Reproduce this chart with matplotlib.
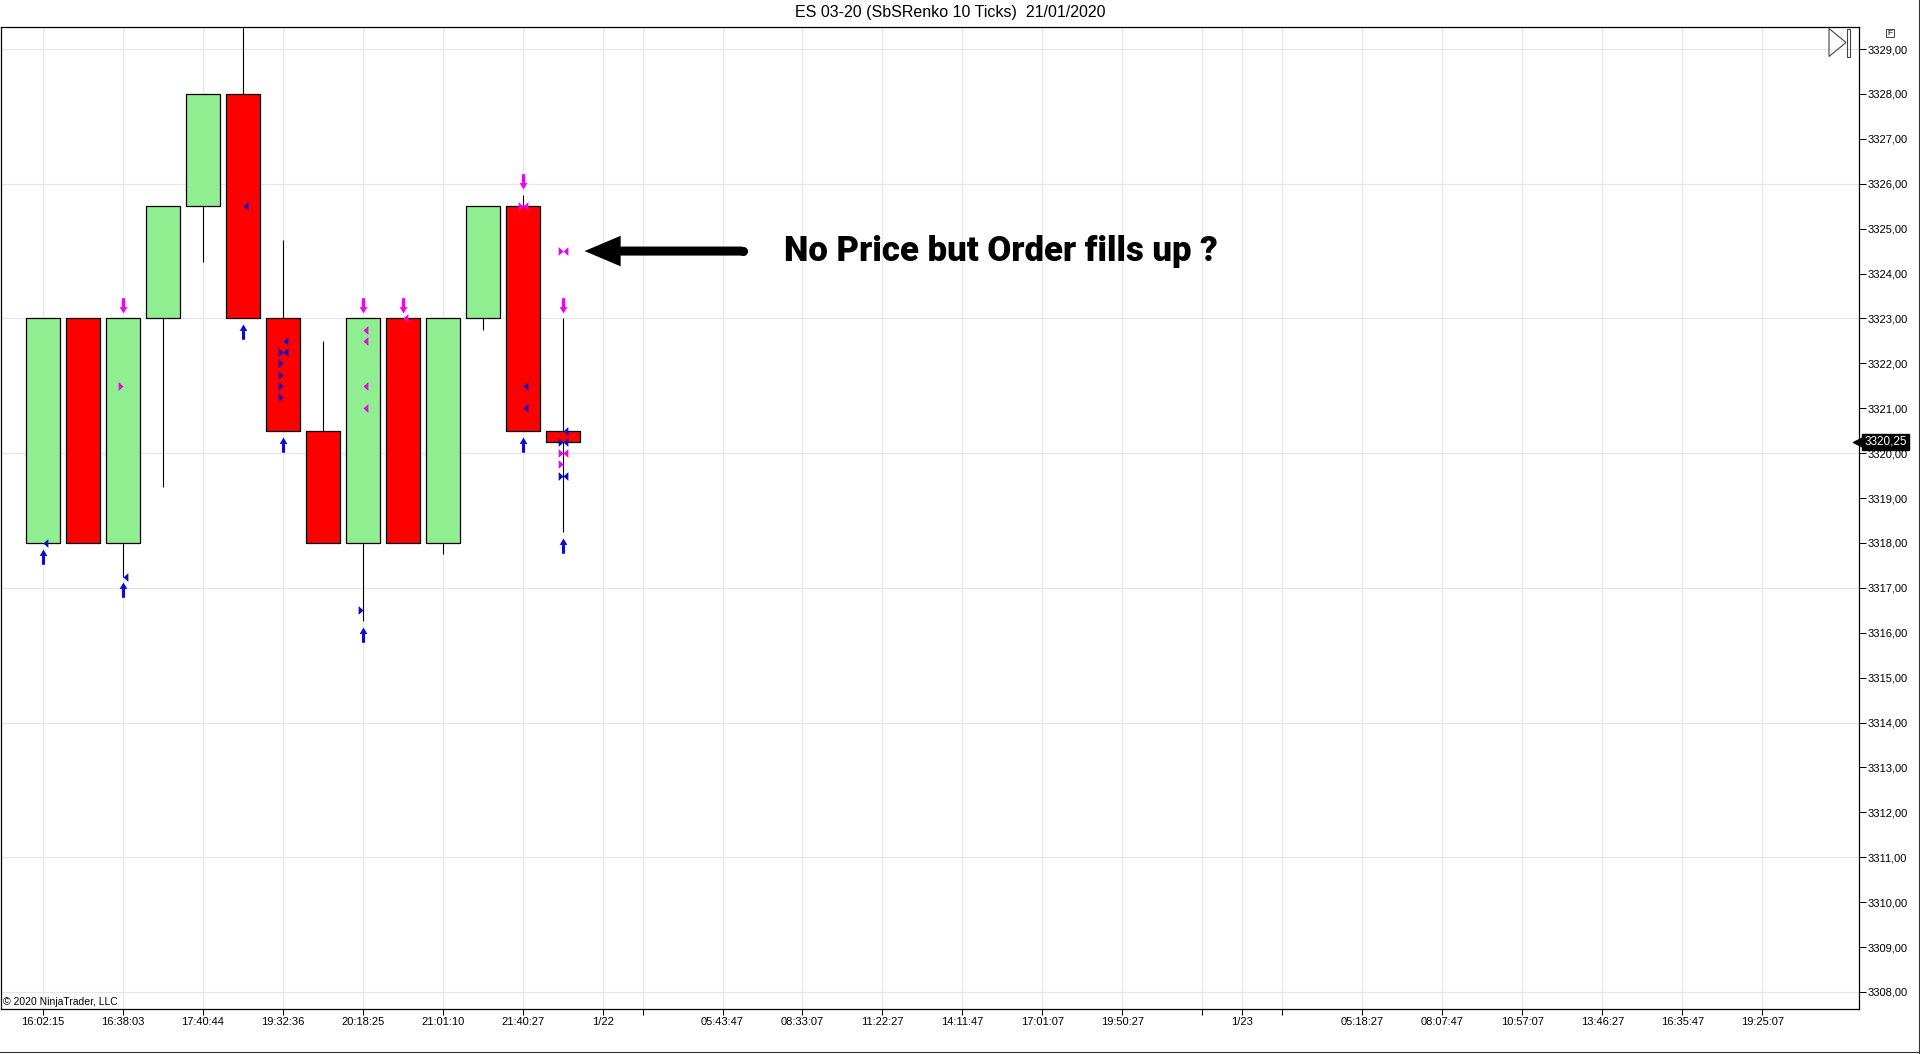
import matplotlib
matplotlib.use("Agg")
import matplotlib.pyplot as plt
import matplotlib.transforms as mtransforms
from matplotlib.lines import Line2D
from matplotlib.patches import Polygon, Rectangle
import numpy as np

plt.rcParams['font.family'] = ['Liberation Sans', 'DejaVu Sans']

# Renko bars (ES 03-20, 10 ticks)
opens  = [3318, 3323, 3318, 3323, 3325.5, 3328, 3323, 3320.5, 3318, 3323, 3318, 3323, 3325.5, 3320.5]
closes = [3323, 3318, 3323, 3325.5, 3328, 3323, 3320.5, 3318, 3323, 3318, 3323, 3325.5, 3320.5, 3320.25]
highs  = [3323, 3323, 3323, 3325.5, 3328, 3329.5, 3324.75, 3322.5, 3323, 3323, 3323, 3325.5, 3325.75, 3323]
lows   = [3318, 3318, 3317.25, 3319.25, 3324.25, 3323, 3320.5, 3318, 3316.25, 3318, 3317.75, 3322.75, 3320.5, 3318.25]

# x axis labels (bar slots)
tick_pos = [0, 2, 4, 6, 8, 10, 12, 14, 15, 17, 19, 21, 23, 25, 27, 29, 30, 31, 33, 35, 37, 39, 41, 43]
tick_labels = ['16:02:15', '16:38:03', '17:40:44', '19:32:36', '20:18:25', '21:01:10', '21:40:27', '1/22', '',
               '05:43:47', '08:33:07', '11:22:27', '14:11:47', '17:01:07', '19:50:27', '', '1/23', '',
               '05:18:27', '08:07:47', '10:57:07', '13:46:27', '16:35:47', '19:25:07']

# trade markers
long_bars = [0, 2, 5, 6, 8, 12, 13]      # blue up arrows under bar
short_bars = [2, 8, 9, 12, 13]           # magenta down arrows over bar

# executions: bar, price, side ('<' right of bar centre, '>' left of it), colour
exec_bar   = [0, 2, 5, 6, 6, 8, 8, 8, 8, 9, 12, 12, 12, 13, 13, 13, 13, 13,
              2, 6, 6, 6, 6, 6, 8, 12, 13, 13, 13, 13, 13]
exec_price = [3318, 3317.25, 3325.5, 3322.5, 3322.25, 3322.75, 3322.5, 3321.5, 3321.0, 3323.0, 3325.5, 3321.5, 3321.0,
              3320.5, 3320.25, 3320.0, 3319.5, 3324.5,
              3321.5, 3322.25, 3322.0, 3321.75, 3321.5, 3321.25, 3316.5, 3325.5, 3320.25, 3320.0, 3319.75, 3319.5, 3324.5]
exec_side  = ['<'] * 18 + ['>'] * 13
exec_col   = ['b', 'b', 'b', 'b', 'b', 'm', 'm', 'm', 'm', 'm', 'm', 'b', 'b', 'b', 'b', 'm', 'b', 'm',
              'm', 'b', 'b', 'b', 'b', 'b', 'b', 'm', 'b', 'm', 'm', 'b', 'm']

GREEN = '#90ee90'
RED = '#ff0000'
BLUE = '#0a0ad2'
MAG = '#f000f0'
GRID = '#e6e6e6'

W, H = 1920, 1054
fig = plt.figure(figsize=(W / 100, H / 100), dpi=100)
ax = fig.add_axes([0.5 / W, 1 - 1009 / H, 1858.5 / W, (1009 - 27) / H])

for i, (o, c, h, l) in enumerate(zip(opens, closes, highs, lows)):
    col = GREEN if c > o else RED
    ax.vlines(i, l, h, color='black', lw=0.8, zorder=2)
    ax.bar(i, abs(c - o), bottom=min(o, c), width=0.85, color=col,
           edgecolor='black', linewidth=0.9, zorder=3)

# arrows
up_arrow = [(0, 0), (-0.25, -0.42), (-0.1, -0.42), (-0.1, -1), (0.1, -1), (0.1, -0.42), (0.25, -0.42), (0, 0)]
dn_arrow = [(x, -y) for x, y in up_arrow]
for b in long_bars:
    ax.plot(b, lows[b] - 0.13, marker=up_arrow, ms=22, color=BLUE, mew=0, ls='none', zorder=5)
for b in short_bars:
    ax.plot(b, highs[b] + 0.13, marker=dn_arrow, ms=22, color=MAG, mew=0, ls='none', zorder=5)

tri_left = [(0, 0), (1.1, -1), (1.1, 1), (0, 0)]
tri_right = [(0, 0), (-1.1, -1), (-1.1, 1), (0, 0)]
for b, p, s, c in zip(exec_bar, exec_price, exec_side, exec_col):
    ax.plot(b, p, marker=tri_left if s == '<' else tri_right, ms=7,
            color=BLUE if c == 'b' else MAG, mew=0, ls='none', zorder=6)

# axes
ax.set_xlim(-1.055, 45.42)
ax.set_ylim(3307.62, 3329.49)
ax.set_xticks(tick_pos)
ax.set_xticklabels(tick_labels)
ax.set_yticks(np.arange(3308, 3330))
ax.set_yticklabels([f"{v:.2f}".replace('.', ',') for v in np.arange(3308, 3330)])
ax.yaxis.tick_right()
ax.tick_params(axis='y', direction='out', length=5, width=0.75, labelsize=8, pad=1.5)
ax.tick_params(axis='x', direction='out', length=4, width=0.75, labelsize=8, pad=2)
ax.grid(axis='x', color=GRID, lw=0.8)
for g in np.arange(3308, 3330, 3):
    ax.axhline(g, color=GRID, lw=0.8, zorder=0)
ax.set_axisbelow(True)
for sp in ax.spines.values():
    sp.set_linewidth(0.9)

# last price marker
blend = mtransforms.blended_transform_factory(ax.transAxes, ax.transData)
last = closes[-1]
ax.plot([1], [last], marker='<', ms=8, color='black', transform=blend, clip_on=False, zorder=10)
ax.annotate(f"{last:.2f}".replace('.', ','), xy=(1, last), xycoords=blend, xytext=(4, 0),
            textcoords='offset points', ha='left', va='center', color='white', fontsize=8.5,
            bbox=dict(boxstyle='square,pad=0.18', fc='black', ec='black'), annotation_clip=False, zorder=10)

# annotation
note_bar = 13
note_price = 3324.5
ax.annotate('', xy=(note_bar + 0.55, note_price), xytext=(note_bar + 4.5, note_price),
            arrowprops=dict(arrowstyle='simple,head_length=26,head_width=22,tail_width=6.5',
                            mutation_scale=1, color='black', lw=0, shrinkA=0, shrinkB=0), zorder=7)
ax.plot(note_bar + 4.5, note_price, 'o', ms=6.5, color='black', mew=0, zorder=7)
ax.text(note_bar + 5.55, note_price - 0.22, 'No Price but Order fills up ?', fontsize=25, fontweight='black',
        family=['Roboto', 'Liberation Sans', 'DejaVu Sans'], ha='left', va='baseline', zorder=7)

# chrome
px = mtransforms.Affine2D().scale(1 / W, -1 / H).translate(0, 1) + fig.transFigure
fig.text(950 / W, 1 - 12 / H, 'ES 03-20 (SbSRenko 10 Ticks)  21/01/2020', ha='center', va='center', fontsize=11.5)
fig.text(3 / W, 1 - 1002 / H, '© 2020 NinjaTrader, LLC', ha='left', va='center', fontsize=7.5)
fig.add_artist(Polygon([(1829, 28.5), (1846, 42.5), (1829, 56.5)], closed=True, fill=False, ec='#444', lw=0.8, transform=px))
fig.add_artist(Rectangle((1846.5, 28.5), 3.5, 28, fill=False, ec='#444', lw=0.8, transform=px))
fig.add_artist(Rectangle((1886, 29), 8, 8, fill=False, ec='#444', lw=0.7, transform=px))
fig.text(1890 / W, 1 - 33.3 / H, 'F', ha='center', va='center', fontsize=6)
fig.add_artist(Line2D([1918.5 / W] * 2, [0, 1], transform=fig.transFigure, color='#333', lw=0.8))
fig.add_artist(Line2D([0, 1], [1 - 1051.5 / H] * 2, transform=fig.transFigure, color='#333', lw=0.8))

fig.savefig('out.png', dpi=100)
